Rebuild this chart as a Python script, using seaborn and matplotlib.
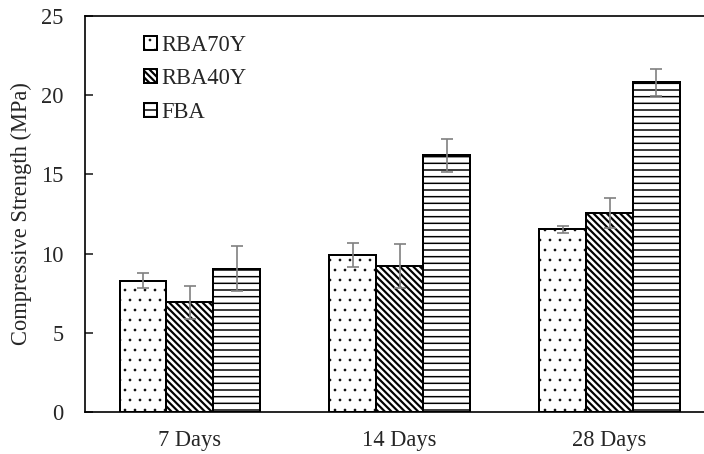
import pandas as pd
import matplotlib
matplotlib.use("Agg")
import matplotlib.pyplot as plt
import matplotlib.patches as mpatches
import seaborn as sns

days = ["7 Days", "14 Days", "28 Days"]
mixes = ["RBA70Y", "RBA40Y", "FBA"]
rba70y = [8.29, 9.91, 11.53]
rba70y_err = [0.47, 0.78, 0.23]
rba40y = [6.93, 9.22, 12.58]
rba40y_err = [1.05, 1.41, 0.95]
fba = [9.05, 16.21, 20.81]
fba_err = [1.41, 1.05, 0.83]

hatches = ["..", "\\\\\\\\\\\\", "---"]
hatch_lw = [0.4, 1.3, 0.9]

sns.set_theme(style="white")
plt.rcParams["font.family"] = ["Liberation Serif", "DejaVu Serif"]
plt.rcParams["hatch.linewidth"] = 1.0
plt.rcParams["hatch.color"] = "black"

df = pd.DataFrame({
    "Age": days * 3,
    "Mix": [m for m in mixes for _ in days],
    "Strength": rba70y + rba40y + fba,
})
errs = [rba70y_err, rba40y_err, fba_err]


def set_hlw(p, lw):
    if hasattr(p, "set_hatch_linewidth"):
        p.set_hatch_linewidth(lw)
    else:
        p._hatch_linewidth = lw


DPI = 120
fig = plt.figure(figsize=(704 / DPI, 454 / DPI), dpi=DPI)
ax = fig.add_axes([85 / 704, 42 / 454, 1 - 85 / 704, 396 / 454])

sns.barplot(data=df, x="Age", y="Strength", hue="Mix", order=days,
            hue_order=mixes, palette=["white"] * 3, edgecolor="black",
            linewidth=1.2, width=0.67, gap=0, errorbar=None, legend=False,
            saturation=1, ax=ax)

for cont, hatch, lw, err in zip(ax.containers, hatches, hatch_lw, errs):
    xs, ys = [], []
    for p in cont.patches:
        p.set_hatch(hatch)
        set_hlw(p, lw)
        p.set_facecolor("white")
        p.set_edgecolor("black")
        xs.append(p.get_x() + p.get_width() / 2)
        ys.append(p.get_height())
    ax.errorbar(xs, ys, yerr=err, fmt="none", ecolor="#808080",
                elinewidth=1.0, capsize=3.5, capthick=1.0, zorder=5)

ax.set_ylim(0, 25)
ax.set_xlim(-0.5, 2.45)
ax.set_yticks([0, 5, 10, 15, 20, 25])
ax.set_xlabel("")
ax.set_ylabel("Compressive Strength (MPa)", fontsize=13.5, labelpad=5)
ax.tick_params(axis="y", direction="in", length=5, width=1, pad=13,
               labelsize=13.5, left=True)
ax.tick_params(axis="x", length=0, pad=11, labelsize=13.5)

for side in ["left", "bottom", "top"]:
    ax.spines[side].set_color("black")
    ax.spines[side].set_linewidth(1.0)
ax.spines["right"].set_visible(False)

handles = []
for h, lw in zip(hatches, hatch_lw):
    hp = mpatches.Patch(facecolor="white", edgecolor="black",
                        linewidth=1.2, hatch=h)
    set_hlw(hp, lw)
    handles.append(hp)
leg = ax.legend(handles, mixes, loc="upper left", bbox_to_anchor=(0.08, 0.975),
                frameon=False, fontsize=13.5, handlelength=0.6, handleheight=0.6,
                handletextpad=0.2, labelspacing=0.55, borderaxespad=0)
for hp, lw in zip(leg.legend_handles, hatch_lw):
    set_hlw(hp, lw)

fig.savefig("out.png", dpi=DPI)
